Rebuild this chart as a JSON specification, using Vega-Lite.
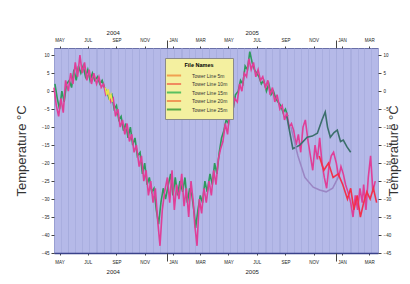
{
"$schema": "https://vega.github.io/schema/vega-lite/v6.json",
"width": 324, "height": 205,
"padding": {"left": 15, "top": 29, "right": 5, "bottom": 5},
"background": "white",
"config": {
 "view": {"fill": "#b5b9e8", "stroke": "#6a70a8", "strokeWidth": 1},
 "axis": {"labelFont": "Liberation Sans", "titleFont": "Liberation Sans", "labelFontSize": 4.5, "labelColor": "#222222", "tickColor": "#444444", "domainColor": "#3a428a", "grid": false}
},
"datasets": {
 "dummy": [{"d": "2004-06-01", "t": 0}],
 "legend": [{"leg": "Tower Line 5m"}, {"leg": "Tower Line 10m"}, {"leg": "Tower Line 15m"}, {"leg": "Tower Line 20m"}, {"leg": "Tower Line 25m"}],
 "series": [
{"d":"2004-05-03","s":"g","t":2},{"d":"2004-05-08","s":"g","t":-2},{"d":"2004-05-13","s":"g","t":-5},{"d":"2004-05-18","s":"g","t":0},{"d":"2004-05-23","s":"g","t":-3},{"d":"2004-05-28","s":"g","t":2},
{"d":"2004-06-03","s":"g","t":3},{"d":"2004-06-08","s":"g","t":1},{"d":"2004-06-13","s":"g","t":6},{"d":"2004-06-18","s":"g","t":3},{"d":"2004-06-23","s":"g","t":7},{"d":"2004-06-28","s":"g","t":5},
{"d":"2004-07-03","s":"g","t":7},{"d":"2004-07-08","s":"g","t":4},{"d":"2004-07-13","s":"g","t":6},{"d":"2004-07-18","s":"g","t":3},{"d":"2004-07-23","s":"g","t":5},{"d":"2004-07-28","s":"g","t":3},
{"d":"2004-08-03","s":"g","t":4},{"d":"2004-08-08","s":"g","t":2},{"d":"2004-08-13","s":"g","t":3},{"d":"2004-08-18","s":"g","t":1},{"d":"2004-08-23","s":"g","t":0},{"d":"2004-08-28","s":"g","t":-2},
{"d":"2004-09-03","s":"g","t":-1},{"d":"2004-09-08","s":"g","t":-5},{"d":"2004-09-13","s":"g","t":-4},{"d":"2004-09-18","s":"g","t":-8},{"d":"2004-09-23","s":"g","t":-7},{"d":"2004-09-28","s":"g","t":-11},
{"d":"2004-10-03","s":"g","t":-9},{"d":"2004-10-08","s":"g","t":-13},{"d":"2004-10-13","s":"g","t":-10},{"d":"2004-10-18","s":"g","t":-15},{"d":"2004-10-23","s":"g","t":-13},{"d":"2004-10-28","s":"g","t":-18},
{"d":"2004-11-03","s":"g","t":-17},{"d":"2004-11-08","s":"g","t":-23},{"d":"2004-11-13","s":"g","t":-20},{"d":"2004-11-18","s":"g","t":-26},{"d":"2004-11-23","s":"g","t":-24},{"d":"2004-11-28","s":"g","t":-28},
{"d":"2004-12-03","s":"g","t":-27},{"d":"2004-12-08","s":"g","t":-33},{"d":"2004-12-13","s":"g","t":-37},{"d":"2004-12-18","s":"g","t":-31},{"d":"2004-12-23","s":"g","t":-27},{"d":"2004-12-28","s":"g","t":-30},
{"d":"2005-01-03","s":"g","t":-26},{"d":"2005-01-08","s":"g","t":-23},{"d":"2005-01-13","s":"g","t":-29},{"d":"2005-01-18","s":"g","t":-24},{"d":"2005-01-23","s":"g","t":-29},{"d":"2005-01-28","s":"g","t":-25},
{"d":"2005-02-03","s":"g","t":-28},{"d":"2005-02-08","s":"g","t":-24},{"d":"2005-02-13","s":"g","t":-31},{"d":"2005-02-18","s":"g","t":-27},{"d":"2005-02-23","s":"g","t":-29},{"d":"2005-02-28","s":"g","t":-34},
{"d":"2005-03-03","s":"g","t":-38},{"d":"2005-03-08","s":"g","t":-33},{"d":"2005-03-13","s":"g","t":-29},{"d":"2005-03-18","s":"g","t":-31},{"d":"2005-03-23","s":"g","t":-25},{"d":"2005-03-28","s":"g","t":-28},
{"d":"2005-04-03","s":"g","t":-23},{"d":"2005-04-08","s":"g","t":-26},{"d":"2005-04-13","s":"g","t":-20},{"d":"2005-04-18","s":"g","t":-23},{"d":"2005-04-23","s":"g","t":-17},{"d":"2005-04-28","s":"g","t":-13},
{"d":"2005-05-03","s":"g","t":-11},{"d":"2005-05-08","s":"g","t":-8},{"d":"2005-05-13","s":"g","t":-9},{"d":"2005-05-18","s":"g","t":-4},{"d":"2005-05-23","s":"g","t":-5},{"d":"2005-05-28","s":"g","t":-1},
{"d":"2005-06-03","s":"g","t":0},{"d":"2005-06-08","s":"g","t":3},{"d":"2005-06-13","s":"g","t":2},{"d":"2005-06-18","s":"g","t":7},{"d":"2005-06-23","s":"g","t":6},{"d":"2005-06-28","s":"g","t":11},
{"d":"2005-07-03","s":"g","t":8},{"d":"2005-07-08","s":"g","t":6},{"d":"2005-07-13","s":"g","t":5},{"d":"2005-07-18","s":"g","t":4},{"d":"2005-07-23","s":"g","t":2},{"d":"2005-07-28","s":"g","t":3},
{"d":"2005-08-03","s":"g","t":0},{"d":"2005-08-08","s":"g","t":2},{"d":"2005-08-13","s":"g","t":-1},{"d":"2005-08-18","s":"g","t":0},{"d":"2005-08-23","s":"g","t":-2},{"d":"2005-08-28","s":"g","t":-3},
{"d":"2005-09-03","s":"g","t":-4},{"d":"2005-09-08","s":"g","t":-6},{"d":"2005-09-13","s":"g","t":-5},{"d":"2005-09-18","s":"g","t":-7},
{"d":"2004-05-01","s":"m","t":1},{"d":"2004-05-06","s":"m","t":-4},{"d":"2004-05-11","s":"m","t":-7},{"d":"2004-05-16","s":"m","t":-2},{"d":"2004-05-21","s":"m","t":-6},{"d":"2004-05-26","s":"m","t":3},
{"d":"2004-06-01","s":"m","t":0},{"d":"2004-06-06","s":"m","t":5},{"d":"2004-06-11","s":"m","t":2},{"d":"2004-06-16","s":"m","t":8},{"d":"2004-06-21","s":"m","t":4},{"d":"2004-06-26","s":"m","t":10},
{"d":"2004-07-01","s":"m","t":5},{"d":"2004-07-06","s":"m","t":8},{"d":"2004-07-11","s":"m","t":3},{"d":"2004-07-16","s":"m","t":6},{"d":"2004-07-21","s":"m","t":2},{"d":"2004-07-26","s":"m","t":5},
{"d":"2004-08-01","s":"m","t":2},{"d":"2004-08-06","s":"m","t":4},{"d":"2004-08-11","s":"m","t":1},{"d":"2004-08-16","s":"m","t":2},{"d":"2004-08-21","s":"m","t":-1},{"d":"2004-08-26","s":"m","t":0},
{"d":"2004-09-01","s":"m","t":-3},{"d":"2004-09-06","s":"m","t":-2},{"d":"2004-09-11","s":"m","t":-7},{"d":"2004-09-16","s":"m","t":-5},{"d":"2004-09-21","s":"m","t":-10},{"d":"2004-09-26","s":"m","t":-8},
{"d":"2004-10-01","s":"m","t":-12},{"d":"2004-10-06","s":"m","t":-9},{"d":"2004-10-11","s":"m","t":-14},{"d":"2004-10-16","s":"m","t":-12},{"d":"2004-10-21","s":"m","t":-17},{"d":"2004-10-26","s":"m","t":-15},
{"d":"2004-11-01","s":"m","t":-21},{"d":"2004-11-06","s":"m","t":-18},{"d":"2004-11-11","s":"m","t":-25},{"d":"2004-11-16","s":"m","t":-22},{"d":"2004-11-21","s":"m","t":-29},{"d":"2004-11-26","s":"m","t":-25},
{"d":"2004-12-01","s":"m","t":-31},{"d":"2004-12-06","s":"m","t":-27},{"d":"2004-12-11","s":"m","t":-36},{"d":"2004-12-16","s":"m","t":-43},{"d":"2004-12-21","s":"m","t":-33},{"d":"2004-12-26","s":"m","t":-28},
{"d":"2005-01-01","s":"m","t":-24},{"d":"2005-01-06","s":"m","t":-31},{"d":"2005-01-11","s":"m","t":-22},{"d":"2005-01-16","s":"m","t":-33},{"d":"2005-01-21","s":"m","t":-26},{"d":"2005-01-26","s":"m","t":-30},
{"d":"2005-02-01","s":"m","t":-23},{"d":"2005-02-06","s":"m","t":-32},{"d":"2005-02-11","s":"m","t":-27},{"d":"2005-02-16","s":"m","t":-35},{"d":"2005-02-21","s":"m","t":-25},{"d":"2005-02-26","s":"m","t":-31},
{"d":"2005-03-01","s":"m","t":-37},{"d":"2005-03-06","s":"m","t":-43},{"d":"2005-03-11","s":"m","t":-30},{"d":"2005-03-16","s":"m","t":-34},{"d":"2005-03-21","s":"m","t":-27},{"d":"2005-03-26","s":"m","t":-31},
{"d":"2005-04-01","s":"m","t":-25},{"d":"2005-04-06","s":"m","t":-29},{"d":"2005-04-11","s":"m","t":-22},{"d":"2005-04-16","s":"m","t":-26},{"d":"2005-04-21","s":"m","t":-19},{"d":"2005-04-26","s":"m","t":-16},
{"d":"2005-05-01","s":"m","t":-14},{"d":"2005-05-06","s":"m","t":-9},{"d":"2005-05-11","s":"m","t":-12},{"d":"2005-05-16","s":"m","t":-5},{"d":"2005-05-21","s":"m","t":-7},{"d":"2005-05-26","s":"m","t":-2},
{"d":"2005-06-01","s":"m","t":-3},{"d":"2005-06-06","s":"m","t":2},{"d":"2005-06-11","s":"m","t":0},{"d":"2005-06-16","s":"m","t":5},{"d":"2005-06-21","s":"m","t":4},{"d":"2005-06-26","s":"m","t":9},
{"d":"2005-07-01","s":"m","t":6},{"d":"2005-07-06","s":"m","t":8},{"d":"2005-07-11","s":"m","t":4},{"d":"2005-07-16","s":"m","t":6},{"d":"2005-07-21","s":"m","t":3},{"d":"2005-07-26","s":"m","t":4},
{"d":"2005-08-01","s":"m","t":1},{"d":"2005-08-06","s":"m","t":3},{"d":"2005-08-11","s":"m","t":-1},{"d":"2005-08-16","s":"m","t":1},{"d":"2005-08-21","s":"m","t":-3},{"d":"2005-08-26","s":"m","t":-1},
{"d":"2005-09-01","s":"m","t":-5},{"d":"2005-09-06","s":"m","t":-4},{"d":"2005-09-11","s":"m","t":-8},{"d":"2005-09-16","s":"m","t":-6},{"d":"2005-09-21","s":"m","t":-10},{"d":"2005-09-26","s":"m","t":-9},
{"d":"2005-10-01","s":"m","t":-11},{"d":"2005-10-06","s":"m","t":-15},{"d":"2005-10-11","s":"m","t":-12},{"d":"2005-10-16","s":"m","t":-17},{"d":"2005-10-21","s":"m","t":-10},{"d":"2005-10-26","s":"m","t":-8},
{"d":"2005-11-01","s":"m","t":-14},{"d":"2005-11-06","s":"m","t":-18},{"d":"2005-11-11","s":"m","t":-22},{"d":"2005-11-16","s":"m","t":-15},{"d":"2005-11-21","s":"m","t":-19},{"d":"2005-11-26","s":"m","t":-13},
{"d":"2005-12-01","s":"m","t":-20},{"d":"2005-12-06","s":"m","t":-24},{"d":"2005-12-11","s":"m","t":-27},{"d":"2005-12-16","s":"m","t":-21},{"d":"2005-12-21","s":"m","t":-18},{"d":"2005-12-26","s":"m","t":-17},
{"d":"2006-01-01","s":"m","t":-20},{"d":"2006-01-06","s":"m","t":-24},{"d":"2006-01-11","s":"m","t":-21},{"d":"2006-01-16","s":"m","t":-23},{"d":"2006-01-21","s":"m","t":-26},{"d":"2006-01-26","s":"m","t":-28},
{"d":"2006-02-01","s":"m","t":-31},{"d":"2006-02-06","s":"m","t":-35},{"d":"2006-02-11","s":"m","t":-29},{"d":"2006-02-16","s":"m","t":-33},{"d":"2006-02-21","s":"m","t":-27},{"d":"2006-02-26","s":"m","t":-31},
{"d":"2006-03-01","s":"m","t":-26},{"d":"2006-03-06","s":"m","t":-33},{"d":"2006-03-11","s":"m","t":-24},{"d":"2006-03-16","s":"m","t":-18},{"d":"2006-03-21","s":"m","t":-28},{"d":"2006-03-26","s":"m","t":-25},
{"d":"2004-08-20","s":"y","t":1},{"d":"2004-08-23","s":"y","t":-1},{"d":"2004-08-26","s":"y","t":0.5},{"d":"2004-08-29","s":"y","t":-2},{"d":"2004-09-01","s":"y","t":-1},{"d":"2004-09-04","s":"y","t":-3},
{"d":"2005-09-16","s":"teal","t":-7},{"d":"2005-09-29","s":"teal","t":-16},{"d":"2005-10-14","s":"teal","t":-15},{"d":"2005-10-30","s":"teal","t":-12.8},{"d":"2005-11-10","s":"teal","t":-12.5},{"d":"2005-11-21","s":"teal","t":-11.7},{"d":"2005-12-01","s":"teal","t":-8},{"d":"2005-12-08","s":"teal","t":-5.8},{"d":"2005-12-13","s":"teal","t":-10},{"d":"2005-12-19","s":"teal","t":-12.8},{"d":"2005-12-27","s":"teal","t":-11.5},{"d":"2006-01-03","s":"teal","t":-10.8},{"d":"2006-01-10","s":"teal","t":-14},{"d":"2006-01-16","s":"teal","t":-13.6},{"d":"2006-01-24","s":"teal","t":-15.5},{"d":"2006-02-01","s":"teal","t":-17},
{"d":"2005-09-25","s":"lav","t":-10},{"d":"2005-10-10","s":"lav","t":-18},{"d":"2005-10-25","s":"lav","t":-24},{"d":"2005-11-12","s":"lav","t":-26.7},{"d":"2005-11-26","s":"lav","t":-27.5},{"d":"2005-12-10","s":"lav","t":-28},{"d":"2005-12-24","s":"lav","t":-27},{"d":"2006-01-05","s":"lav","t":-24},
{"d":"2005-11-25","s":"red","t":-18},{"d":"2005-12-05","s":"red","t":-22},{"d":"2005-12-15","s":"red","t":-20},{"d":"2005-12-25","s":"red","t":-24},{"d":"2006-01-05","s":"red","t":-23},{"d":"2006-01-15","s":"red","t":-26},{"d":"2006-01-25","s":"red","t":-30},{"d":"2006-02-01","s":"red","t":-27},{"d":"2006-02-08","s":"red","t":-33},{"d":"2006-02-15","s":"red","t":-29},{"d":"2006-02-22","s":"red","t":-35},{"d":"2006-03-01","s":"red","t":-31},{"d":"2006-03-08","s":"red","t":-28},{"d":"2006-03-15","s":"red","t":-30},{"d":"2006-03-22","s":"red","t":-27},{"d":"2006-03-29","s":"red","t":-31}
 ]
},
"layer": [
 {
  "data": {"name": "dummy"},
  "mark": {"type": "point", "opacity": 0},
  "encoding": {
   "x": {"field": "d", "type": "temporal", "scale": {"type": "utc", "domain": [{"year": 2004, "month": 5, "date": 1, "utc": true}, {"year": 2006, "month": 4, "date": 1, "utc": true}]},
    "axis": {"orient": "bottom", "tickCount": {"interval": "day", "step": 15}, "grid": true, "gridColor": "#a6abdc", "gridWidth": 0.8, "labels": false, "ticks": false, "domain": false, "title": null}},
   "y": {"field": "t", "type": "quantitative", "scale": {"domain": [-45, 12], "nice": false, "zero": false}, "axis": null}
  }
 },
 {
  "data": {"name": "series"},
  "mark": {"type": "line", "strokeWidth": 1.6},
  "encoding": {
   "x": {"field": "d", "type": "temporal",
    "axis": {"orient": "bottom", "values": [{"year":2004,"month":5,"date":13,"utc":true},{"year":2004,"month":7,"date":13,"utc":true},{"year":2004,"month":9,"date":13,"utc":true},{"year":2004,"month":11,"date":13,"utc":true},{"year":2005,"month":1,"date":13,"utc":true},{"year":2005,"month":3,"date":13,"utc":true},{"year":2005,"month":5,"date":13,"utc":true},{"year":2005,"month":7,"date":13,"utc":true},{"year":2005,"month":9,"date":13,"utc":true},{"year":2005,"month":11,"date":13,"utc":true},{"year":2006,"month":1,"date":13,"utc":true},{"year":2006,"month":3,"date":13,"utc":true}],
     "labelExpr": "upper(utcFormat(datum.value, '%b'))", "tickSize": 2, "labelPadding": 4.5, "title": null, "domainWidth": 1.5}},
   "y": {"field": "t", "type": "quantitative",
    "axis": {"orient": "left", "values": [10,5,0,-5,-10,-15,-20,-25,-30,-35,-40,-45], "tickSize": 3, "labelPadding": 2, "domain": false, "title": "Temperature °C", "titleFontSize": 13, "titleFontWeight": "normal", "titleColor": "#333333", "titlePadding": 13}},
   "stroke": {"field": "s", "type": "nominal", "scale": {"domain": ["g","m","y","teal","lav","red"], "range": ["#2e9a5e","#df3f98","#e6e34a","#3b6f6c","#9a86c4","#f2304c"]}, "legend": null}
  }
 },
 {
  "data": {"name": "dummy"},
  "mark": {"type": "point", "opacity": 0},
  "encoding": {
   "x": {"field": "d", "type": "temporal",
    "axis": {"orient": "top", "values": [{"year":2004,"month":5,"date":13,"utc":true},{"year":2004,"month":7,"date":13,"utc":true},{"year":2004,"month":9,"date":13,"utc":true},{"year":2004,"month":11,"date":13,"utc":true},{"year":2005,"month":1,"date":13,"utc":true},{"year":2005,"month":3,"date":13,"utc":true},{"year":2005,"month":5,"date":13,"utc":true},{"year":2005,"month":7,"date":13,"utc":true},{"year":2005,"month":9,"date":13,"utc":true},{"year":2005,"month":11,"date":13,"utc":true},{"year":2006,"month":1,"date":13,"utc":true},{"year":2006,"month":3,"date":13,"utc":true}],
     "labelExpr": "upper(utcFormat(datum.value, '%b'))", "tickSize": 2, "labelPadding": 4, "domain": false, "title": null}},
   "y": {"field": "t", "type": "quantitative",
    "axis": {"orient": "right", "values": [10,5,0,-5,-10,-15,-20,-25,-30,-35,-40,-45], "tickSize": 3, "labelPadding": 2, "domain": false, "title": "Temperature °C", "titleFontSize": 13, "titleFontWeight": "normal", "titleColor": "#333333", "titlePadding": 10, "titleAngle": 270}}
  }
 },
 {
  "data": {"name": "dummy"},
  "mark": {"type": "point", "opacity": 0},
  "encoding": {
   "x": {"field": "d", "type": "temporal", "axis": {"orient": "bottom", "values": [{"year":2005,"month":1,"date":1,"utc":true},{"year":2006,"month":1,"date":1,"utc":true}], "tickSize": 8, "labels": false, "domain": false, "title": null}}
  }
 },
 {
  "data": {"name": "dummy"},
  "mark": {"type": "point", "opacity": 0},
  "encoding": {
   "x": {"field": "d", "type": "temporal", "axis": {"orient": "top", "values": [{"year":2005,"month":1,"date":1,"utc":true},{"year":2006,"month":1,"date":1,"utc":true}], "tickSize": 8, "labels": false, "domain": false, "title": null}}
  }
 },
 {
  "data": {"name": "dummy"},
  "mark": {"type": "point", "opacity": 0},
  "encoding": {
   "x": {"field": "d", "type": "temporal", "axis": {"orient": "bottom", "values": [{"year":2004,"month":9,"date":5,"utc":true},{"year":2005,"month":7,"date":2,"utc":true}], "labelExpr": "utcFormat(datum.value, '%Y')", "labelFontSize": 6, "ticks": false, "labelPadding": 15, "domain": false, "title": null}}
  }
 },
 {
  "data": {"name": "dummy"},
  "mark": {"type": "point", "opacity": 0},
  "encoding": {
   "x": {"field": "d", "type": "temporal", "axis": {"orient": "top", "values": [{"year":2004,"month":9,"date":5,"utc":true},{"year":2005,"month":7,"date":2,"utc":true}], "labelExpr": "utcFormat(datum.value, '%Y')", "labelFontSize": 6, "ticks": false, "labelPadding": 13, "domain": false, "title": null}}
  }
 },
 {
  "data": {"name": "legend"},
  "mark": {"type": "line", "strokeWidth": 2},
  "encoding": {
   "x": {"field": "d", "type": "temporal", "axis": null},
   "y": {"field": "t", "type": "quantitative", "axis": null},
   "color": {"field": "leg", "type": "nominal", "scale": {"domain": ["Tower Line 5m","Tower Line 10m","Tower Line 15m","Tower Line 20m","Tower Line 25m"], "range": ["#f0a050","#f08a60","#58c060","#f09858","#58a848"]},
    "legend": {"orient": "none", "legendX": 111, "legendY": 10, "title": "File Names", "titleFont": "Liberation Sans", "titleFontSize": 5.5, "titleFontWeight": "bold", "titleAnchor": "middle", "titlePadding": 3, "labelFont": "Liberation Sans", "labelFontSize": 5, "labelColor": "#333333", "fillColor": "#f4f0a0", "strokeColor": "#8a8a8a", "padding": 5, "symbolType": "M-2.6,0L2.6,0", "symbolStrokeWidth": 2, "symbolSize": 30, "labelOffset": 14, "rowPadding": 0.5}}
  }
 }
],
"resolve": {"axis": {"x": "independent", "y": "independent"}}
}
